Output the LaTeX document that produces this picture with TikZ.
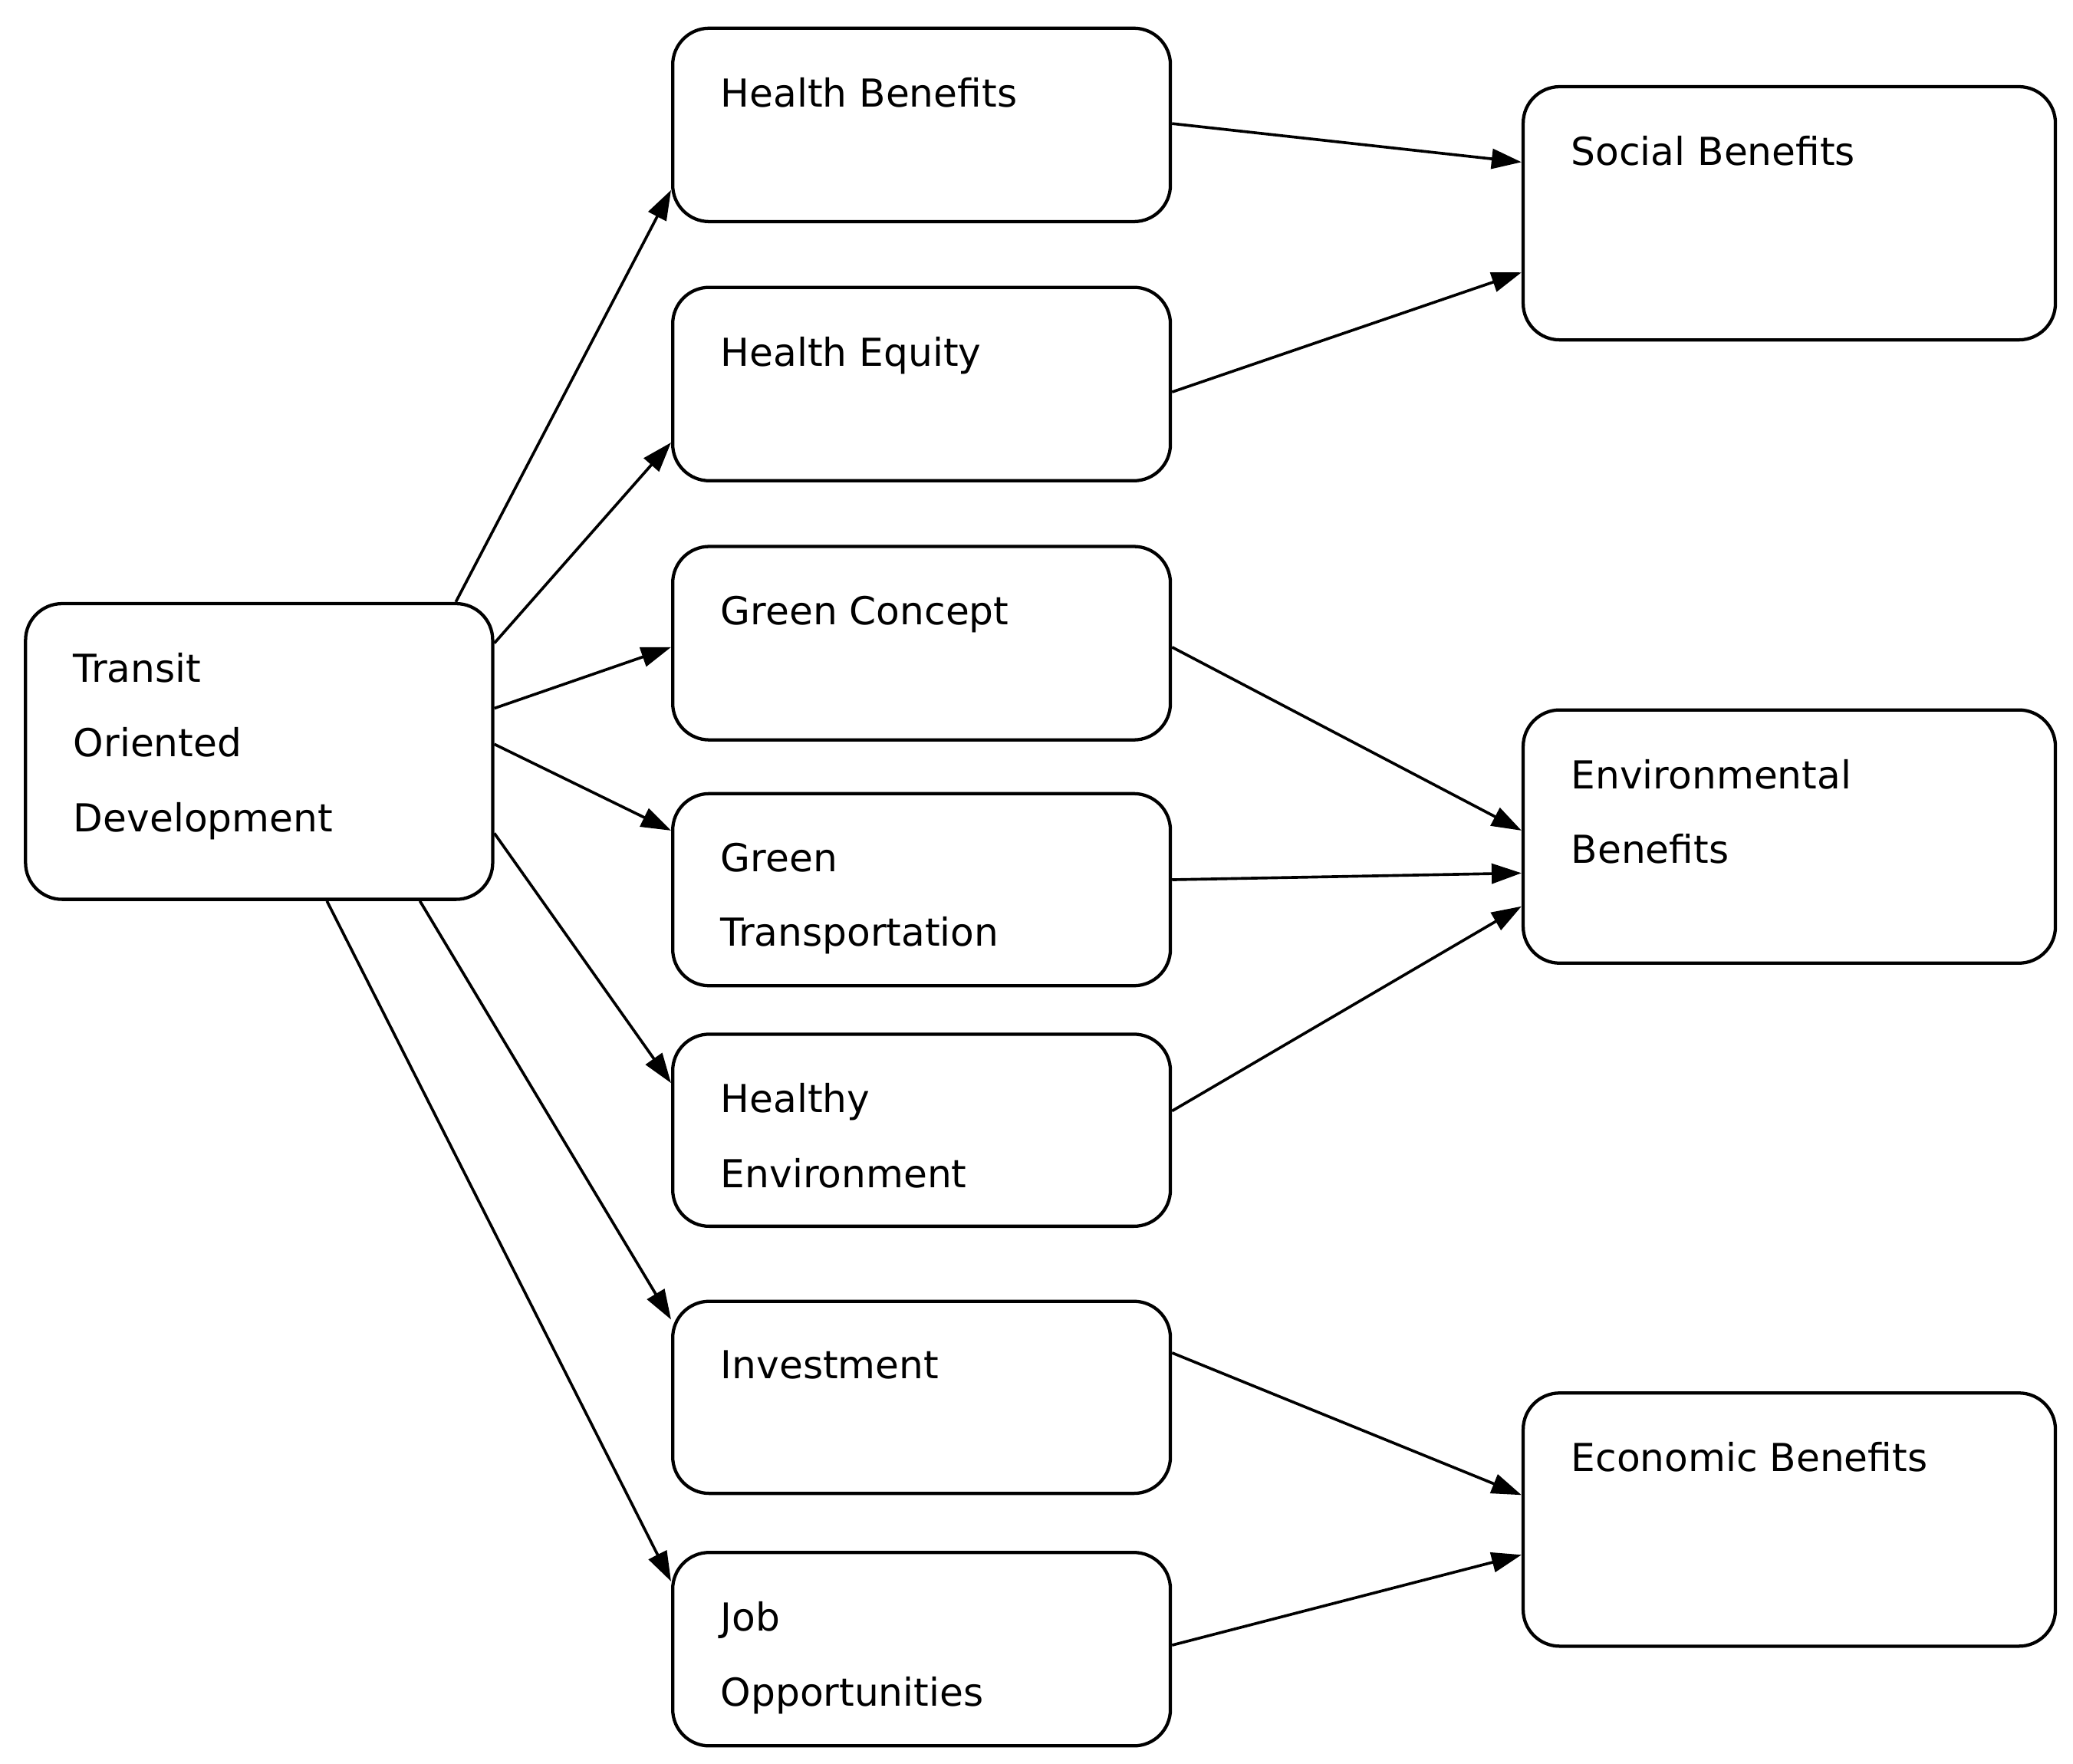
\documentclass[tikz,border=0pt]{standalone}
\usepackage{fontspec}
\setmainfont{DejaVu Sans}
\usetikzlibrary{calc,arrows.meta}
\begin{document}
\begin{tikzpicture}[x=0.02cm,y=-0.02cm,
  box/.style={draw,rounded corners=0.55cm,line width=1.4pt,inner sep=0pt},
  lbl/.style={anchor=north west,font=\fontsize{16.5}{32}\selectfont,align=left,inner sep=0pt},
  arr/.style={line width=1.2pt,-{Triangle[length=0.45cm,width=0.3cm]}}]
\useasboundingbox (0,0) rectangle (1560,1327);
\newcommand\bx[6]{\node[box,minimum width=#4*0.02cm-1.4pt,minimum height=#5*0.02cm-1.4pt] (#1) at ({(#2+#4/2)},{(#3+#5/2)}) {};
  \node[lbl] (#1t) at (#2+37,#3+38) {#6};}
\bx{tod}{18}{453}{354}{225}{Transit\\Oriented\\Development}
\bx{hb}{505}{20}{377}{148}{Health Benefits}
\bx{he}{505}{215}{377}{148}{Health Equity}
\bx{gc}{505}{410}{377}{148}{Green Concept}
\bx{gt}{505}{596}{377}{147}{Green\\Transportation}
\bx{hen}{505}{777}{377}{147}{Healthy\\Environment}
\bx{inv}{505}{978}{377}{147}{Investment}
\bx{job}{505}{1167}{377}{148}{Job\\Opportunities}
\bx{soc}{1145}{64}{403}{193}{Social Benefits}
\bx{env}{1145}{533}{403}{193}{Environmental\\Benefits}
\bx{eco}{1145}{1047}{403}{193}{Economic Benefits}
% TOD to middle
\draw[arr] ($(tod.north west)+(325,0)$) -- ($(hb.north west)+(0,123)$);
\draw[arr] ($(tod.north east)+(0,31)$) -- ($(he.north west)+(0,118)$);
\draw[arr] ($(tod.north east)+(0,80)$) -- ($(gc.north west)+(0,77)$);
\draw[arr] ($(tod.north east)+(0,107)$) -- ($(gt.north west)+(0,29)$);
\draw[arr] ($(tod.north east)+(0,174)$) -- ($(hen.north west)+(0,38)$);
\draw[arr] ($(tod.south west)+(298,0)$) -- ($(inv.north west)+(0,15)$);
\draw[arr] ($(tod.south west)+(228,0)$) -- ($(job.north west)+(0,23)$);
% middle to right
\draw[arr] ($(hb.north east)+(0,73)$) -- ($(soc.north west)+(0,58)$);
\draw[arr] ($(he.north east)+(0,80)$) -- ($(soc.north west)+(0,141)$);
\draw[arr] ($(gc.north east)+(0,77)$) -- ($(env.north west)+(0,92)$);
\draw[arr] ($(gt.north east)+(0,66)$) -- ($(env.north west)+(0,124)$);
\draw[arr] ($(hen.north east)+(0,59)$) -- ($(env.north west)+(0,149)$);
\draw[arr] ($(inv.north east)+(0,40)$) -- ($(eco.north west)+(0,78)$);
\draw[arr] ($(job.north east)+(0,71)$) -- ($(eco.north west)+(0,123)$);
\end{tikzpicture}
\end{document}
